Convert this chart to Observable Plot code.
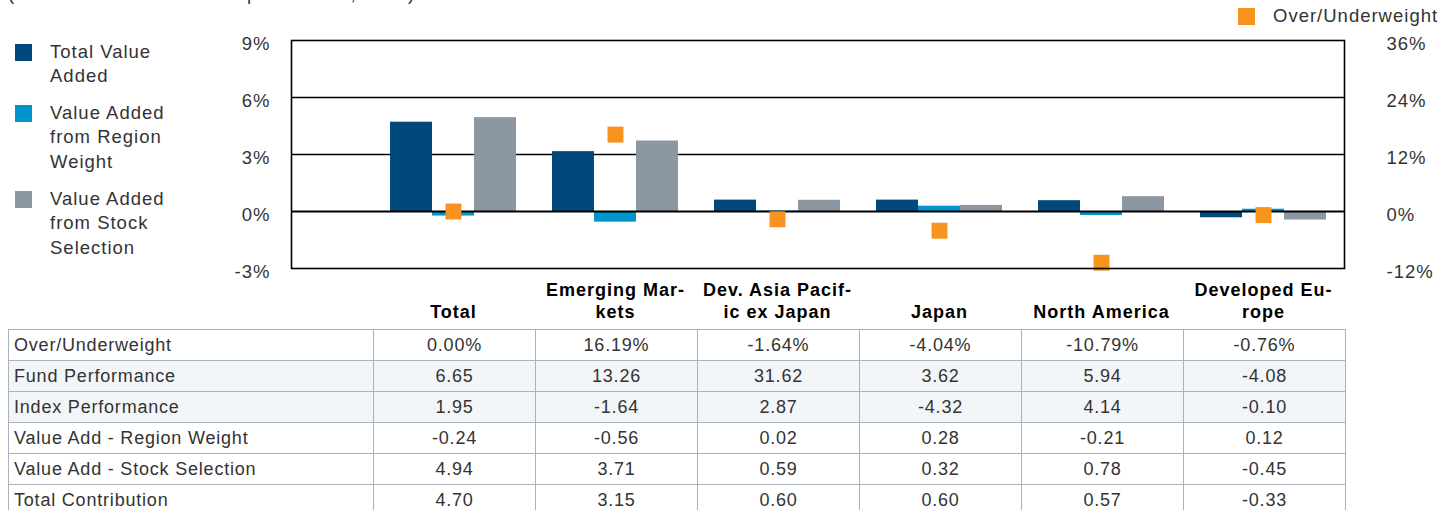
<!DOCTYPE html>
<html><head><meta charset="utf-8">
<script src="https://cdn.jsdelivr.net/npm/d3@7"></script>
<script src="https://cdn.jsdelivr.net/npm/@observablehq/plot@0.6"></script>
<style>
body{margin:0;width:1450px;height:510px;overflow:hidden;background:#fff;font-family:"Liberation Sans",Arial,sans-serif;color:#333;position:relative}
#title{position:absolute;left:8px;top:-15px;font-size:18.5px;line-height:18.5px;white-space:nowrap;letter-spacing:1px}
#chart{position:absolute;left:0;top:0}
.lg{position:absolute;font-size:18.5px;line-height:24.3px;letter-spacing:1px;white-space:nowrap}
.sw{position:absolute;width:17px;height:17px}
#tbl{position:absolute;left:8px;top:329px;border-collapse:collapse;table-layout:fixed;width:1337px}
#tbl td{border:1.5px solid #aab2be;padding:0;font-size:18px;text-align:center;color:#333;white-space:nowrap;letter-spacing:0.8px}
#tbl td.lab{text-align:left;padding-left:5px}
#tbl tr{height:31px}
#tbl tr.shade td{background:#f3f6f8}
</style></head><body>
<div id="title">(Twelve Months Ended September 30, 2019)</div>
<div id="chart"></div>
<div id="legends"></div>
<table id="tbl"><colgroup id="cols"></colgroup><tbody id="tb"></tbody></table>
<script>
const categories = ["Total","Emerging Markets","Dev. Asia Pacific ex Japan","Japan","North America","Developed Europe"];
const categoryLabels = ["Total","Emerging Mar-\nkets","Dev. Asia Pacif-\nic ex Japan","Japan","North America","Developed Eu-\nrope"];
const overUnderweight = [0.00,16.19,-1.64,-4.04,-10.79,-0.76];
const fundPerformance = [6.65,13.26,31.62,3.62,5.94,-4.08];
const indexPerformance = [1.95,-1.64,2.87,-4.32,4.14,-0.10];
const valueAddRegion = [-0.24,-0.56,0.02,0.28,-0.21,0.12];
const valueAddStock = [4.94,3.71,0.59,0.32,0.78,-0.45];
const totalContribution = [4.70,3.15,0.60,0.60,0.57,-0.33];
const leftTicks = [-3,0,3,6,9];
const rightTicks = [-12,0,12,24,36];
const gridValues = [3,6];
const seriesNames = ["Total Value\nAdded","Value Added\nfrom Region\nWeight","Value Added\nfrom Stock\nSelection"];
const seriesColors = ["#00497a","#0096cc","#8d97a2"];
const markerName = "Over/Underweight";
const markerColor = "#f7931e";
const rowLabels = ["Over/Underweight","Fund Performance","Index Performance","Value Add - Region Weight","Value Add - Stock Selection","Total Contribution"];

const ratio = rightTicks[rightTicks.length-1] / leftTicks[leftTicks.length-1];
const data = categories.map((c,i)=>({cat:c,label:categoryLabels[i],total:totalContribution[i],region:valueAddRegion[i],stock:valueAddStock[i],ow:overUnderweight[i]}));

const plot = Plot.plot({
  width:1450, height:330,
  marginTop:40, marginBottom:62, marginLeft:291, marginRight:106,
  style:{fontFamily:"Liberation Sans, Arial, sans-serif",fontSize:"18px",color:"#333",background:"transparent",overflow:"visible",letterSpacing:"1px"},
  x:{domain:categories, range:[372,1344], paddingInner:36/162, paddingOuter:18/162, axis:null},
  y:{domain:[leftTicks[0], leftTicks[leftTicks.length-1]]},
  marks:[
    Plot.ruleY(gridValues,{stroke:"#000",strokeWidth:1.4}),
    Plot.barY(data,{x:"cat",y:"total",fill:seriesColors[0],insetRight:84}),
    Plot.barY(data,{x:"cat",y:"region",fill:seriesColors[1],insetLeft:42,insetRight:42}),
    Plot.barY(data,{x:"cat",y:"stock",fill:seriesColors[2],insetLeft:84}),
    Plot.ruleY([0],{stroke:"#000",strokeWidth:2}),
    Plot.dot(data,{x:"cat",y:d=>d.ow/ratio,symbol:"square",r:9,fill:markerColor}),
    Plot.frame({stroke:"#000",strokeWidth:1.6}),
    Plot.axisY({ticks:leftTicks,anchor:"left",tickSize:0,tickPadding:21,tickFormat:d=>d+"%",fontSize:18.5,dy:4}),
    Plot.axisY({ticks:leftTicks,anchor:"right",tickSize:0,tickPadding:42,tickFormat:d=>(d*ratio)+"%",fontSize:18.5,dy:4}),
    Plot.text(data,{x:"cat",text:"label",frameAnchor:"bottom",lineAnchor:"bottom",dy:49,fontWeight:"bold",fontSize:18,fill:"#000",lineHeight:1.17})
  ]
});
document.getElementById("chart").appendChild(plot);

// legends
const lg = document.getElementById("legends");
const swY = [44,105,191], txY = [40,101,187];
seriesNames.forEach((n,i)=>{
  const s=document.createElement("div");s.className="sw";s.style.left="15px";s.style.top=swY[i]+"px";s.style.background=seriesColors[i];lg.appendChild(s);
  const t=document.createElement("div");t.className="lg";t.style.left="50px";t.style.top=txY[i]+"px";t.innerHTML=n.split("\n").join("<br>");lg.appendChild(t);
});
{
  const s=document.createElement("div");s.className="sw";s.style.left="1238px";s.style.top="8px";s.style.background=markerColor;lg.appendChild(s);
  const t=document.createElement("div");t.className="lg";t.style.left="1273px";t.style.top="4px";t.textContent=markerName;lg.appendChild(t);
}

// table
const cols=document.getElementById("cols");
[365,...categories.map(()=>162)].forEach(w=>{const c=document.createElement("col");c.style.width=w+"px";cols.appendChild(c);});
const rows=[
  overUnderweight.map(v=>v.toFixed(2)+"%"),
  fundPerformance.map(v=>v.toFixed(2)),
  indexPerformance.map(v=>v.toFixed(2)),
  valueAddRegion.map(v=>v.toFixed(2)),
  valueAddStock.map(v=>v.toFixed(2)),
  totalContribution.map(v=>v.toFixed(2))
];
const tb=document.getElementById("tb");
rows.forEach((r,i)=>{
  const tr=document.createElement("tr");
  if(i===1||i===2) tr.className="shade";
  const l=document.createElement("td");l.className="lab";l.textContent=rowLabels[i];tr.appendChild(l);
  r.forEach(v=>{const td=document.createElement("td");td.textContent=v;tr.appendChild(td);});
  tb.appendChild(tr);
});
</script>
</body></html>
